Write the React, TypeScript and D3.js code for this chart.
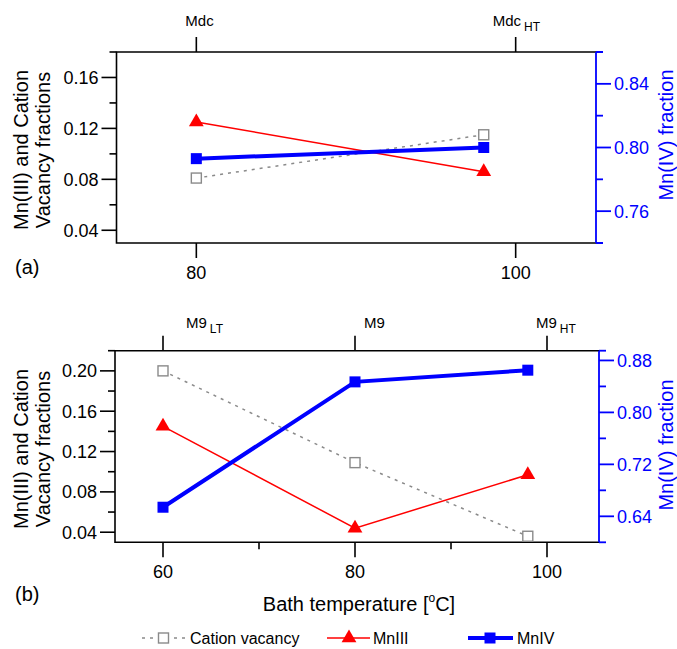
import React from "react";
import * as d3 from "d3";

// Panel (a): Mdc samples
const tempsA = [80, 98];
const vacancyA = [0.081, 0.115];
const mn3A = [0.125, 0.086];
const mn4A = [0.793, 0.8];

// Panel (b): M9 samples
const tempsB = [60, 80, 98];
const vacancyB = [0.2, 0.109, 0.036];
const mn3B = [0.145, 0.044, 0.097];
const mn4B = [0.654, 0.847, 0.865];

// Tick values
const bottomTicksA = [80, 100];
const bottomMinorA: number[] = [];
const bottomTicksB = [60, 80, 100];
const bottomMinorB = [70, 90];
const leftTicksA = [0.04, 0.08, 0.12, 0.16];
const leftMinorA = [0.06, 0.1, 0.14, 0.18];
const leftTicksB = [0.04, 0.08, 0.12, 0.16, 0.2];
const leftMinorB = [0.06, 0.1, 0.14, 0.18, 0.22];
const rightTicksA = [0.76, 0.8, 0.84];
const rightMinorA = [0.74, 0.78, 0.82, 0.86];
const rightTicksB = [0.64, 0.72, 0.8, 0.88];
const rightMinorB = [0.68, 0.76, 0.84];

// Sample names along the top axis
const topTempsA = [80, 100];
const topNamesA = ["Mdc", "Mdc"];
const topSubsA = ["", "HT"];
const topTempsB = [60, 80, 100];
const topNamesB = ["M9", "M9", "M9"];
const topSubsB = ["LT", "", "HT"];

const FONT = "'Liberation Sans', Arial, Helvetica, sans-serif";
const GRAY = "#8a8a8a";
const RED = "#ff0000";
const BLUE = "#0000ff";

type PanelProps = {
  left: number;
  right: number;
  rightAxisX: number;
  top: number;
  bottom: number;
  xDomain: [number, number];
  yLeftDomain: [number, number];
  yRightDomain: [number, number];
  temps: number[];
  vacancy: number[];
  mn3: number[];
  mn4: number[];
  bottomTicks: number[];
  bottomMinor: number[];
  leftTicks: number[];
  leftMinor: number[];
  rightTicks: number[];
  rightMinor: number[];
  topTemps: number[];
  topNames: string[];
  topSubs: string[];
  topLabelDx: number[];
  topBaseline: number;
  leftTitleY: number;
  rightTitleY: number;
  tag: string;
  tagY: number;
};

const fmt = d3.format(".2f");
const triPath = d3.symbol(d3.symbolTriangle, 95)()!;

function Panel(p: PanelProps) {
  const x = d3.scaleLinear().domain(p.xDomain).range([p.left, p.right]);
  const yL = d3.scaleLinear().domain(p.yLeftDomain).range([p.bottom, p.top]);
  const yR = d3.scaleLinear().domain(p.yRightDomain).range([p.bottom, p.top]);

  const lineL = d3
    .line<number>()
    .x((_, i) => x(p.temps[i]))
    .y((d) => yL(d));
  const lineR = d3
    .line<number>()
    .x((_, i) => x(p.temps[i]))
    .y((d) => yR(d));

  const major = 15;
  const minor = 7;

  return (
    <g>
      {/* frame: top, left, bottom in black */}
      <path
        d={`M${p.rightAxisX},${p.top}H${p.left}V${p.bottom}H${p.rightAxisX}`}
        fill="none"
        stroke="#000"
        strokeWidth={1.6}
      />

      {/* bottom axis ticks */}
      {p.bottomTicks.map((t) => (
        <g key={"b" + t}>
          <line x1={x(t)} x2={x(t)} y1={p.bottom} y2={p.bottom + major} stroke="#000" strokeWidth={1.6} />
          <text x={x(t)} y={p.bottom + 36} textAnchor="middle" fontSize={18} fontFamily={FONT}>
            {t}
          </text>
        </g>
      ))}
      {p.bottomMinor.map((t) => (
        <line key={"bm" + t} x1={x(t)} x2={x(t)} y1={p.bottom} y2={p.bottom + minor} stroke="#000" strokeWidth={1.6} />
      ))}

      {/* top axis: sample names */}
      {p.topTemps.map((t, i) => (
        <g key={"t" + i}>
          <line x1={x(t)} x2={x(t)} y1={p.top} y2={p.top - major} stroke="#000" strokeWidth={1.6} />
          <text x={x(t) + p.topLabelDx[i]} y={p.topBaseline} fontSize={15} fontFamily={FONT}>
            {p.topNames[i]}
            {p.topSubs[i] && (
              <tspan fontSize={12} dx={3} dy={5}>
                {p.topSubs[i]}
              </tspan>
            )}
          </text>
        </g>
      ))}

      {/* left axis */}
      {p.leftTicks.map((t) => (
        <g key={"l" + t}>
          <line x1={p.left - major} x2={p.left} y1={yL(t)} y2={yL(t)} stroke="#000" strokeWidth={1.6} />
          <text x={p.left - 18} y={yL(t)} dy="0.36em" textAnchor="end" fontSize={18} fontFamily={FONT}>
            {fmt(t)}
          </text>
        </g>
      ))}
      {p.leftMinor.map((t) => (
        <line key={"lm" + t} x1={p.left - minor} x2={p.left} y1={yL(t)} y2={yL(t)} stroke="#000" strokeWidth={1.6} />
      ))}

      {/* right axis in blue */}
      <line x1={p.rightAxisX} x2={p.rightAxisX} y1={p.top} y2={p.bottom} stroke={BLUE} strokeWidth={1.8} />
      <line x1={p.rightAxisX} x2={p.rightAxisX + minor} y1={p.top} y2={p.top} stroke={BLUE} strokeWidth={1.8} />
      <line x1={p.rightAxisX} x2={p.rightAxisX + minor} y1={p.bottom} y2={p.bottom} stroke={BLUE} strokeWidth={1.8} />
      {p.rightTicks.map((t) => (
        <g key={"r" + t}>
          <line x1={p.rightAxisX} x2={p.rightAxisX + major} y1={yR(t)} y2={yR(t)} stroke={BLUE} strokeWidth={1.8} />
          <text x={p.rightAxisX + 18} y={yR(t)} dy="0.36em" fontSize={18} fontFamily={FONT} fill={BLUE}>
            {fmt(t)}
          </text>
        </g>
      ))}
      {p.rightMinor.map((t) => (
        <line key={"rm" + t} x1={p.rightAxisX} x2={p.rightAxisX + minor} y1={yR(t)} y2={yR(t)} stroke={BLUE} strokeWidth={1.8} />
      ))}

      {/* axis titles */}
      <text transform={`translate(28,${p.leftTitleY}) rotate(-90)`} textAnchor="middle" fontSize={20} fontFamily={FONT}>
        Mn(III) and Cation
      </text>
      <text transform={`translate(50,${p.leftTitleY}) rotate(-90)`} textAnchor="middle" fontSize={20} fontFamily={FONT}>
        Vacancy fractions
      </text>
      <text
        transform={`translate(673,${p.rightTitleY}) rotate(-90)`}
        textAnchor="middle"
        fontSize={20}
        fontFamily={FONT}
        fill={BLUE}
      >
        Mn(IV) fraction
      </text>

      {/* series */}
      <path d={lineL(p.vacancy)!} fill="none" stroke={GRAY} strokeWidth={1.5} strokeDasharray="3,5" />
      <path d={lineL(p.mn3)!} fill="none" stroke={RED} strokeWidth={1.5} />
      <path d={lineR(p.mn4)!} fill="none" stroke={BLUE} strokeWidth={4} />

      {p.vacancy.map((v, i) => (
        <rect
          key={"v" + i}
          x={x(p.temps[i]) - 5}
          y={yL(v) - 5}
          width={10}
          height={10}
          fill="#fff"
          stroke={GRAY}
          strokeWidth={1.4}
        />
      ))}
      {p.mn3.map((v, i) => (
        <path key={"m3" + i} d={triPath} transform={`translate(${x(p.temps[i])},${yL(v)})`} fill={RED} />
      ))}
      {p.mn4.map((v, i) => (
        <rect key={"m4" + i} x={x(p.temps[i]) - 5.5} y={yR(v) - 5.5} width={11} height={11} fill={BLUE} />
      ))}

      <text x={15} y={p.tagY} fontSize={20} fontFamily={FONT}>
        {p.tag}
      </text>
    </g>
  );
}

export default function App() {
  return (
    <svg
      width={677}
      height={649}
      style={{ position: "absolute", left: 0, top: 0, background: "#fff" }}
    >
      <rect width={677} height={649} fill="#fff" />
      <Panel
        left={116.5}
        right={595.5}
        rightAxisX={596}
        top={52}
        bottom={243}
        xDomain={[75, 105]}
        yLeftDomain={[0.03, 0.18]}
        yRightDomain={[0.74, 0.86]}
        temps={tempsA}
        vacancy={vacancyA}
        mn3={mn3A}
        mn4={mn4A}
        bottomTicks={bottomTicksA}
        bottomMinor={bottomMinorA}
        leftTicks={leftTicksA}
        leftMinor={leftMinorA}
        rightTicks={rightTicksA}
        rightMinor={rightMinorA}
        topTemps={topTempsA}
        topNames={topNamesA}
        topSubs={topSubsA}
        topLabelDx={[-11, -23]}
        topBaseline={26}
        leftTitleY={150}
        rightTitleY={135}
        tag="(a)"
        tagY={274}
      />
      <Panel
        left={115}
        right={595}
        rightAxisX={599}
        top={350.7}
        bottom={542.3}
        xDomain={[55, 105]}
        yLeftDomain={[0.03, 0.22]}
        yRightDomain={[0.6, 0.895]}
        temps={tempsB}
        vacancy={vacancyB}
        mn3={mn3B}
        mn4={mn4B}
        bottomTicks={bottomTicksB}
        bottomMinor={bottomMinorB}
        leftTicks={leftTicksB}
        leftMinor={leftMinorB}
        rightTicks={rightTicksB}
        rightMinor={rightMinorB}
        topTemps={topTempsB}
        topNames={topNamesB}
        topSubs={topSubsB}
        topLabelDx={[23, 9, -11]}
        topBaseline={328}
        leftTitleY={449}
        rightTitleY={445}
        tag="(b)"
        tagY={601}
      />

      {/* x-axis title */}
      <text x={359} y={611} textAnchor="middle" fontSize={20} fontFamily={FONT}>
        Bath temperature [
        <tspan fontSize={12} dy={-9}>
          o
        </tspan>
        <tspan dy={9}>C]</tspan>
      </text>

      {/* legend */}
      <g fontFamily={FONT} fontSize={16}>
        <line x1={142} x2={187} y1={638} y2={638} stroke={GRAY} strokeWidth={1.5} strokeDasharray="3,5" />
        <rect x={158.5} y={633} width={10} height={10} fill="#fff" stroke={GRAY} strokeWidth={1.4} />
        <text x={190} y={638} dy="0.36em">
          Cation vacancy
        </text>

        <line x1={327} x2={370} y1={638} y2={638} stroke={RED} strokeWidth={1.5} />
        <path d={triPath} transform="translate(349,638)" fill={RED} />
        <text x={373} y={638} dy="0.36em">
          MnIII
        </text>

        <line x1={468} x2={513} y1={638} y2={638} stroke={BLUE} strokeWidth={4} />
        <rect x={484.5} y={632.5} width={11} height={11} fill={BLUE} />
        <text x={517} y={638} dy="0.36em">
          MnIV
        </text>
      </g>
    </svg>
  );
}
